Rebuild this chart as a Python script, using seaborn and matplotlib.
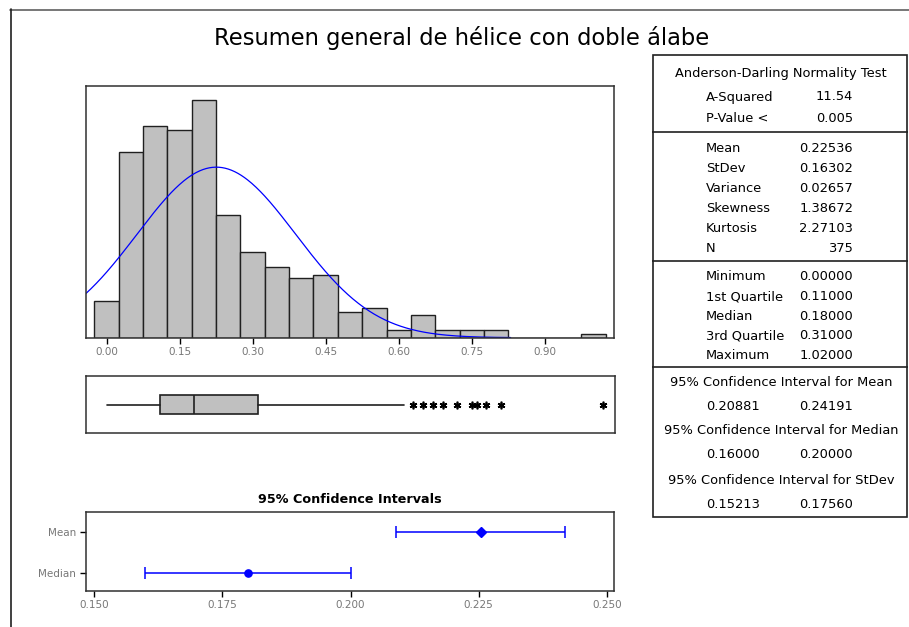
import numpy as np
import pandas as pd
import matplotlib
matplotlib.use("Agg")
import matplotlib.pyplot as plt
from matplotlib.patches import Rectangle
from matplotlib.lines import Line2D
import seaborn as sns

# ---------------- data ----------------
title = "Resumen general de hélice con doble álabe"

bin_centers = [0.00, 0.05, 0.10, 0.15, 0.20, 0.25, 0.30, 0.35, 0.40, 0.45, 0.50,
               0.55, 0.60, 0.65, 0.70, 0.75, 0.80, 0.85, 0.90, 0.95, 1.00]
counts = [10, 50, 57, 56, 64, 33, 23, 19, 16, 17, 7,
          8, 2, 6, 2, 2, 2, 0, 0, 0, 1]
bin_width = 0.05
hist_ticks = [0.00, 0.15, 0.30, 0.45, 0.60, 0.75, 0.90]

mean_val = 0.22536
stdev_val = 0.16302
n_obs = 375

box_q1 = 0.11
box_med = 0.18
box_q3 = 0.31
whisker_lo = 0.00
whisker_hi = 0.61
outliers = [0.63, 0.65, 0.67, 0.69, 0.72, 0.75, 0.76, 0.78, 0.81, 1.02]

ci_labels = ["Mean", "Median"]
ci_est = [0.22536, 0.18000]
ci_low = [0.20881, 0.16000]
ci_high = [0.24191, 0.20000]
ci_ticks = [0.150, 0.175, 0.200, 0.225, 0.250]
ci_title = "95% Confidence Intervals"

ad_header = "Anderson-Darling Normality Test"
ad_labels = ["A-Squared", "P-Value <"]
ad_values = ["11.54", "0.005"]
desc_labels = ["Mean", "StDev", "Variance", "Skewness", "Kurtosis", "N"]
desc_values = ["0.22536", "0.16302", "0.02657", "1.38672", "2.27103", "375"]
quart_labels = ["Minimum", "1st Quartile", "Median", "3rd Quartile", "Maximum"]
quart_values = ["0.00000", "0.11000", "0.18000", "0.31000", "1.02000"]
ci_headers = ["95% Confidence Interval for Mean",
              "95% Confidence Interval for Median",
              "95% Confidence Interval for StDev"]
ci_table_low = ["0.20881", "0.16000", "0.15213"]
ci_table_high = ["0.24191", "0.20000", "0.17560"]

# ---------------- style ----------------
sns.set_style("white")
plt.rcParams["font.family"] = ["DejaVu Sans"]
plt.rcParams["text.color"] = "black"
plt.rcParams["axes.titlecolor"] = "black"

W, H = 909, 627
fig = plt.figure(figsize=(W / 100, H / 100), dpi=100)


def px_axes(left, top, right, bottom):
    return fig.add_axes([left / W, 1 - bottom / H, (right - left) / W, (bottom - top) / H])


spine_c = "#303030"
tick_c = "#777777"
bar_c = "#c0c0c0"

# outer frame
frame = fig.add_axes([0, 0, 1, 1])
frame.set_xlim(0, W)
frame.set_ylim(H, 0)
frame.axis("off")
frame.add_line(Line2D([10, W], [9.5, 9.5], color="#606060", lw=1.2))
frame.add_line(Line2D([10.5, 10.5], [9, H], color="#202020", lw=1.2))

fig.text(462 / W, 1 - 38 / H, title, ha="center", va="center", fontsize=16.3, color="black")

# ---------------- histogram ----------------
ax_h = px_axes(85.7, 85.7, 614.3, 337.7)
hist_df = pd.DataFrame({"value": bin_centers, "count": counts})
sns.histplot(data=hist_df, x="value", weights="count", binwidth=bin_width,
             binrange=(bin_centers[0] - bin_width / 2, bin_centers[-1] + bin_width / 2),
             ax=ax_h, color=bar_c, edgecolor="#202020", linewidth=1.0, alpha=1.0)
xs = np.linspace(-0.043, 0.83, 400)
ys = n_obs * bin_width * np.exp(-0.5 * ((xs - mean_val) / stdev_val) ** 2) / (stdev_val * np.sqrt(2 * np.pi))
sns.lineplot(x=xs, y=ys, ax=ax_h, color="#0000ff", lw=0.9)
ax_h.set_xlim(-0.043, 1.043)
ax_h.set_ylim(0, 67.8)
ax_h.set_xticks(hist_ticks)
ax_h.set_xticklabels([f"{t:.2f}" for t in hist_ticks])
ax_h.set_yticks([])
ax_h.set_xlabel("")
ax_h.set_ylabel("")
ax_h.tick_params(axis="x", bottom=True, length=4, width=1, color="black",
                 labelsize=7.5, labelcolor=tick_c, pad=3)

# ---------------- box plot ----------------
ax_b = px_axes(85.7, 375.7, 614.5, 433.3)
stats = [dict(med=box_med, q1=box_q1, q3=box_q3, whislo=whisker_lo, whishi=whisker_hi,
              fliers=outliers, label="")]
ax_b.bxp(stats, positions=[0], widths=0.34, vert=False, showcaps=False, patch_artist=True,
         boxprops=dict(facecolor=bar_c, edgecolor="#202020", linewidth=1.2),
         medianprops=dict(color="#202020", linewidth=1.2),
         whiskerprops=dict(color="#202020", linewidth=1.2),
         flierprops=dict(marker=(6, 2, 0), markersize=5.5, markeredgewidth=1.2,
                         markeredgecolor="black", markerfacecolor="black", linestyle="none"))
ax_b.set_xlim(-0.043, 1.043)
ax_b.set_ylim(-0.5, 0.5)
ax_b.set_xticks([])
ax_b.set_yticks([])

# ---------------- CI plot ----------------
ax_c = px_axes(86, 511.7, 614, 590.7)
ypos = list(range(len(ci_labels)))
markers = ["D", "o"]
for i in ypos:
    ax_c.errorbar([ci_est[i]], [i],
                  xerr=[[ci_est[i] - ci_low[i]], [ci_high[i] - ci_est[i]]],
                  fmt=markers[i], color="#0000ff", ecolor="#0000ff", elinewidth=1.1,
                  capsize=4.2, capthick=1.1, markersize=4.6 if markers[i] == "D" else 5.2)
ax_c.set_xlim(0.1484, 0.2514)
ax_c.set_ylim(1.44, -0.5)
ax_c.set_xticks(ci_ticks)
ax_c.set_xticklabels([f"{t:.3f}" for t in ci_ticks])
ax_c.set_yticks(ypos)
ax_c.set_yticklabels(ci_labels)
ax_c.tick_params(axis="both", bottom=True, left=True, length=4, width=1, color="black",
                 labelsize=7.5, labelcolor=tick_c, pad=3)
ax_c.set_title(ci_title, fontsize=9.2, fontweight="bold", pad=6, color="black")

for a in (ax_h, ax_b, ax_c):
    for s in a.spines.values():
        s.set_visible(True)
        s.set_color(spine_c)
        s.set_linewidth(1.1)

# ---------------- statistics table ----------------
T_L, T_T, T_R, T_B = 652, 54, 908, 518
ax_t = px_axes(T_L, T_T, T_R, T_B)
ax_t.set_xlim(T_L, T_R)
ax_t.set_ylim(T_B, T_T)
ax_t.axis("off")
ax_t.add_patch(Rectangle((T_L + 0.5, T_T + 0.5), T_R - T_L - 1.5, T_B - T_T - 1.5,
                         fill=False, edgecolor="#202020", lw=1.2))
for ysep in (132, 261, 367):
    ax_t.add_line(Line2D([T_L, T_R], [ysep, ysep], color="#202020", lw=1.2))

fs = 9.4
cx = (T_L + T_R) / 2 + 1
lab_x = 706
val_x = 853
tc = "black"
ax_t.text(cx, 74, ad_header, ha="center", va="center", fontsize=fs, color=tc)
for lab, val, y in zip(ad_labels, ad_values, [97, 118]):
    ax_t.text(lab_x, y, lab, ha="left", va="center", fontsize=fs, color=tc)
    ax_t.text(val_x, y, val, ha="right", va="center", fontsize=fs, color=tc)
for k, (lab, val) in enumerate(zip(desc_labels, desc_values)):
    y = 148 + 20 * k
    ax_t.text(lab_x, y, lab, ha="left", va="center", fontsize=fs, color=tc)
    ax_t.text(val_x, y, val, ha="right", va="center", fontsize=fs, color=tc)
for k, (lab, val) in enumerate(zip(quart_labels, quart_values)):
    y = 277 + 19.6 * k
    ax_t.text(lab_x, y, lab, ha="left", va="center", fontsize=fs, color=tc)
    ax_t.text(val_x, y, val, ha="right", va="center", fontsize=fs, color=tc)
for k, (hdr, lo, hi) in enumerate(zip(ci_headers, ci_table_low, ci_table_high)):
    yh = 382 + 49 * k
    ax_t.text(cx, yh, hdr, ha="center", va="center", fontsize=fs, color=tc)
    ax_t.text(lab_x, yh + 24, lo, ha="left", va="center", fontsize=fs, color=tc)
    ax_t.text(val_x, yh + 24, hi, ha="right", va="center", fontsize=fs, color=tc)

fig.savefig("out.png", dpi=100)
